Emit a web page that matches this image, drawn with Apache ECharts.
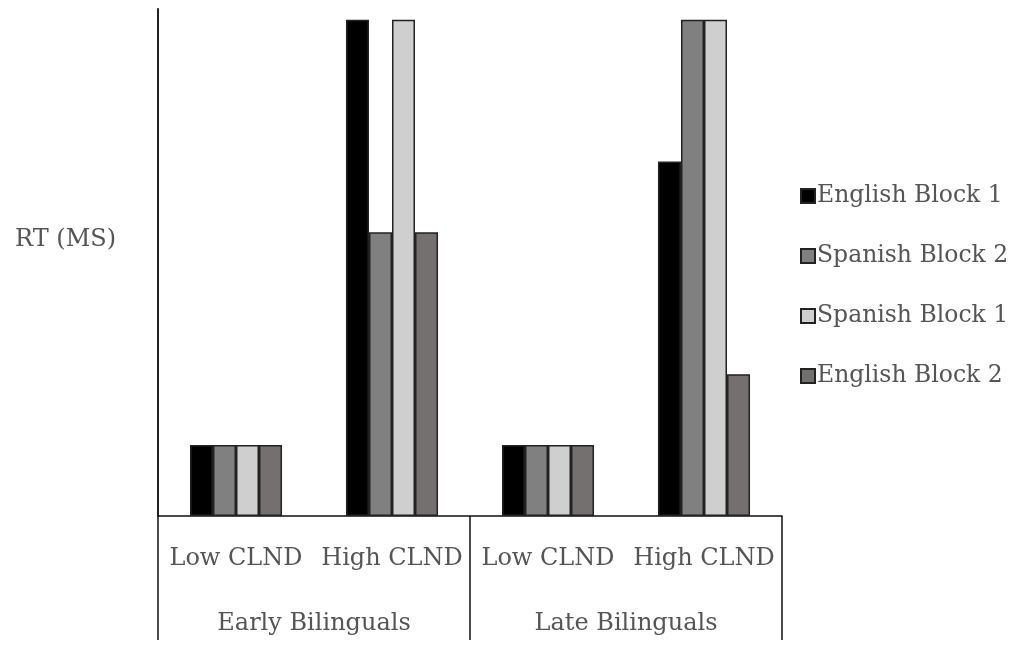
<!DOCTYPE html>
<html>
<head>
<meta charset="utf-8">
<script src="https://cdn.jsdelivr.net/npm/echarts@6/dist/echarts.min.js"></script>
<style>html,body{margin:0;padding:0;background:#fff}#c{width:1026px;height:646px}</style>
</head>
<body>
<div id="c"></div>
<script>
var categories = ['Low CLND', 'High CLND', 'Low CLND', 'High CLND'];
var groups = ['Early Bilinguals', 'Late Bilinguals'];
var seriesNames = ['English Block 1', 'Spanish Block 2', 'Spanish Block 1', 'English Block 2'];
var englishBlock1 = [1, 7, 1, 5];
var spanishBlock2 = [1, 4, 1, 7];
var spanishBlock1 = [1, 7, 1, 7];
var englishBlock2 = [1, 4, 1, 2];
var yLabel = 'RT (MS)';

var colors = ['#000000', '#808080', '#d0cfd0', '#757070'];
var values = [englishBlock1, spanishBlock2, spanishBlock1, englishBlock2];
var FONT = 'DejaVu Serif';
var TXT = '#555555';

var chart = echarts.init(document.getElementById('c'), null, {renderer: 'canvas'});
var series = seriesNames.map(function (n, i) {
  return {
    name: n, type: 'bar', xAxisIndex: 0, yAxisIndex: 0,
    data: values[i],
    barGap: '0%', barCategoryGap: '41%',
    itemStyle: {color: colors[i], borderColor: '#222', borderWidth: 1.5},
    emphasis: {disabled: true}
  };
});
chart.setOption({
  animation: false,
  backgroundColor: '#fff',
  title: {
    text: yLabel, left: 10, top: 223,
    textStyle: {fontFamily: FONT, fontSize: 24, fontWeight: 'normal', color: TXT}
  },
  legend: {
    orient: 'vertical', left: 795, top: 179,
    itemWidth: 14, itemHeight: 14, itemGap: 36,
    icon: 'rect',
    textStyle: {fontFamily: FONT, fontSize: 23.5, color: TXT, lineHeight: 24, padding: [0, 0, 0, -3]},
    data: seriesNames
  },
  grid: {left: 158, right: 244, top: 9, bottom: 130, containLabel: false},
  xAxis: [{
    type: 'category', data: categories, position: 'bottom',
    axisLine: {show: true, lineStyle: {color: '#111', width: 1.5}},
    axisTick: {show: false},
    axisLabel: {fontFamily: FONT, fontSize: 24, color: TXT, margin: 31, interval: 0}
  }, {
    type: 'category', data: groups, position: 'bottom', offset: 0,
    axisLine: {show: false},
    axisTick: {show: true, length: 124, lineStyle: {color: '#111', width: 1.5}},
    axisLabel: {fontFamily: FONT, fontSize: 24, color: TXT, margin: 96, interval: 0}
  }],
  yAxis: {
    type: 'value', min: 0, max: 7.15,
    axisLine: {show: true, lineStyle: {color: '#222', width: 2}},
    axisTick: {show: false}, axisLabel: {show: false}, splitLine: {show: false}
  },
  series: series
});
</script>
</body>
</html>
